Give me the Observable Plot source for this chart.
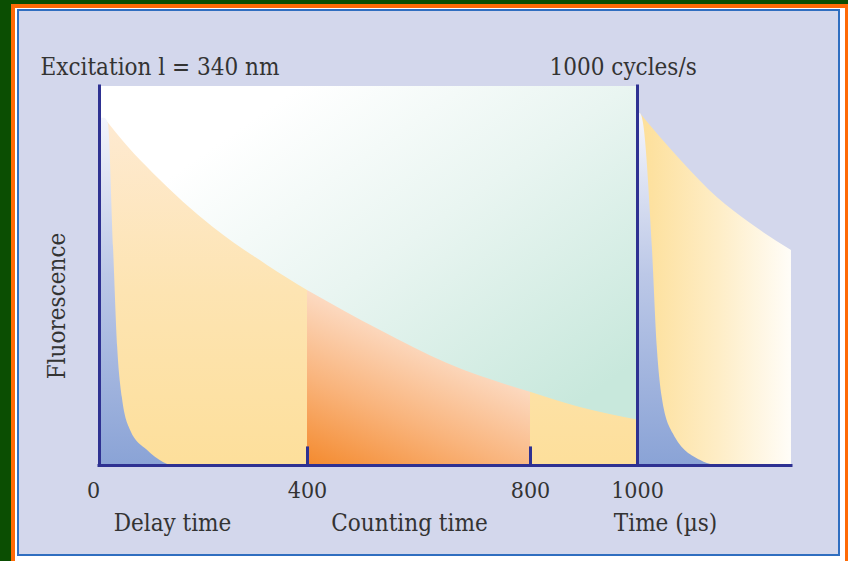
<!DOCTYPE html>
<html>
<head>
<meta charset="utf-8">
<script src="https://cdn.jsdelivr.net/npm/d3@7"></script>
<script src="https://cdn.jsdelivr.net/npm/@observablehq/plot@0.6"></script>
<style>
  html, body { margin: 0; padding: 0; }
  body { width: 848px; height: 561px; overflow: hidden; position: relative; background: #0b4e02; }
  .box { position: absolute; }
  #chart { position: absolute; left: 0; top: 0; }
  #chart svg { overflow: visible; }
</style>
</head>
<body>
<div class="box" style="left:11px;top:4px;width:837px;height:557px;background:#ff6a06"></div>
<div class="box" style="left:15px;top:8px;width:830px;height:553px;background:#ffffff"></div>
<div class="box" style="left:17px;top:9px;width:819px;height:543px;border:2px solid #2f6ec0;background:#d3d7ec"></div>
<div id="chart"></div>
<script>
// ---- data ----
const ticks = [0, 400, 800, 1000];
const tickLabels = ["0", "400", "800", "1000"];

// long-lived (slow) fluorescence decay, first cycle
const slowT = [9.6, 56, 104, 219, 323, 400, 531, 651, 800, 893, 1000];
const slowV = [91.6, 83.9, 77.0, 62.8, 52.8, 46.2, 35.6, 26.9, 19.3, 15.3, 12.0];

// short-lived (fast) background fluorescence, first cycle
const fastT = [0, 9.6, 17, 27, 35, 44, 60, 92, 123, 137];
const fastV = [91.6, 91.6, 90.2, 57.5, 31.1, 17.9, 9.2, 4.0, 0.8, 0];

// second cycle (after the next pulse at 1000 µs)
const slow2T = [1005, 1084, 1145, 1205, 1280];
const slow2V = [92.9, 79.7, 70.7, 63.9, 56.7];
const fast2T = [1000, 1005, 1011, 1027, 1036, 1045, 1065, 1115, 1127, 1140];
const fast2V = [92.9, 92.9, 90.2, 57.5, 31.1, 17.9, 8.4, 1.3, 0.5, 0];

const delayEnd = 400, countEnd = 800, cycleEnd = 1000, viewEnd = 1280;

const titleLeft = "Excitation l = 340 nm";
const titleRight = "1000 cycles/s";
const yLabel = "Fluorescence";
const regionLabels = ["Delay time", "Counting time", "Time (µs)"];

// ---- build tables ----
const toRows = (T, V) => T.map((t, i) => ({t, v: V[i]}));
const slow = toRows(slowT, slowV);
const fast = toRows(fastT, fastV);
const slow2 = toRows(slow2T, slow2V);
const fast2 = toRows(fast2T, fast2V);

const navy = "#2e3192";
const textColor = "#333333";
const font = "'DejaVu Serif Condensed', 'DejaVu Serif', serif";

// schematic (piecewise) time axis, as in the original drawing
const timeAxis = d3.scaleLinear().domain([0, delayEnd, countEnd, cycleEnd, viewEnd]).range([99, 307, 530, 637, 791]);

function defs() {
  const d = d3.create("svg:defs");
  function lin(id, x1, y1, x2, y2, stops) {
    const g = d.append("linearGradient").attr("id", id)
      .attr("gradientUnits", "userSpaceOnUse")
      .attr("x1", x1).attr("y1", y1).attr("x2", x2).attr("y2", y2);
    stops.forEach(([o, c]) => g.append("stop").attr("offset", o).attr("stop-color", c));
  }
  lin("teal", 300, 86, 540, 430, [[0, "#ffffff"], [0.45, "#e9f5f1"], [1, "#c8e8dc"]]);
  lin("yellowL", 0, 118, 0, 465, [[0, "#feead2"], [0.5, "#fde4b2"], [1, "#fddf9b"]]);
  lin("orange", 307, 465, 380, 300, [[0, "#f48a2e"], [0.45, "#f9b47c"], [1, "#fde4d4"]]);
  lin("blue", 0, 118, 0, 465, [[0, "#f3f4fb"], [0.45, "#bcc8e7"], [1, "#8aa3d6"]]);
  lin("yellowR", 645, 0, 791, 0, [[0, "#fde09c"], [0.5, "#feedc6"], [1, "#fffdf8"]]);
  return d.node();
}

const T = {fontFamily: font, fill: textColor, fontSize: 24, stroke: null, lineAnchor: "middle", textAnchor: "middle"};

const chart = Plot.plot({
  width: 848,
  height: 561,
  marginLeft: 99, marginRight: 57, marginTop: 86, marginBottom: 96,
  x: {transform: timeAxis, domain: [99, 791], range: [99, 791], axis: null},
  y: {domain: [0, 100], range: [465, 86], axis: null},
  style: {background: "transparent", fontFamily: font, overflow: "visible"},
  marks: [
    defs,
    Plot.rect([0], {x1: 0, x2: cycleEnd, y1: 0, y2: 100, fill: "url(#teal)"}),
    Plot.areaY(slow.filter(d => d.t <= delayEnd), {x: "t", y1: 0, y2: "v", fill: "url(#yellowL)", curve: "monotone-x"}),
    Plot.areaY(slow.filter(d => d.t >= delayEnd && d.t <= countEnd), {x: "t", y1: 0, y2: "v", fill: "url(#orange)", curve: "monotone-x"}),
    Plot.areaY(slow.filter(d => d.t >= countEnd), {x: "t", y1: 0, y2: "v", fill: "url(#yellowL)", curve: "monotone-x"}),
    Plot.areaY(fast, {x: "t", y1: 0, y2: "v", fill: "url(#blue)", curve: "monotone-x"}),
    Plot.areaY(slow2, {x: "t", y1: 0, y2: "v", fill: "url(#yellowR)", curve: "monotone-x"}),
    Plot.areaY(fast2, {x: "t", y1: 0, y2: "v", fill: "url(#blue)", curve: "monotone-x"}),
    // axes
    Plot.ruleX([0, cycleEnd], {y1: 0, y2: 100, stroke: navy, strokeWidth: 3, strokeLinecap: "square"}),
    Plot.ruleY([0], {x1: 0, x2: viewEnd, stroke: navy, strokeWidth: 3, strokeLinecap: "square"}),
    Plot.ruleX([delayEnd, countEnd], {y1: 0, y2: 4.9, stroke: navy, strokeWidth: 3}),
    // tick labels
    Plot.text(ticks.slice(1), {x: d => d, text: (d, i) => tickLabels[i + 1], frameAnchor: "bottom", dy: 25, ...T, fontSize: 23}),
    Plot.text(ticks.slice(0, 1), {x: d => d, text: (d, i) => tickLabels[i], frameAnchor: "bottom", dy: 25, dx: -6, ...T, fontSize: 23}),
    // labels
    Plot.text([titleLeft], {frameAnchor: "top-left", dy: -19, ...T, textAnchor: "start", dx: -59}),
    Plot.text([titleRight], {frameAnchor: "top-left", dy: -19, ...T, textAnchor: "start", dx: 450}),
    Plot.text([yLabel], {frameAnchor: "left", rotate: -90, dx: -42, dy: 30, ...T}),
    Plot.text([regionLabels[0]], {frameAnchor: "bottom-left", dx: 73, dy: 58, ...T}),
    Plot.text([regionLabels[1]], {frameAnchor: "bottom-left", dx: 310, dy: 58, ...T}),
    Plot.text([regionLabels[2]], {frameAnchor: "bottom-left", dx: 566, dy: 58, ...T})
  ]
});
document.getElementById("chart").appendChild(chart);
</script>
</body>
</html>
